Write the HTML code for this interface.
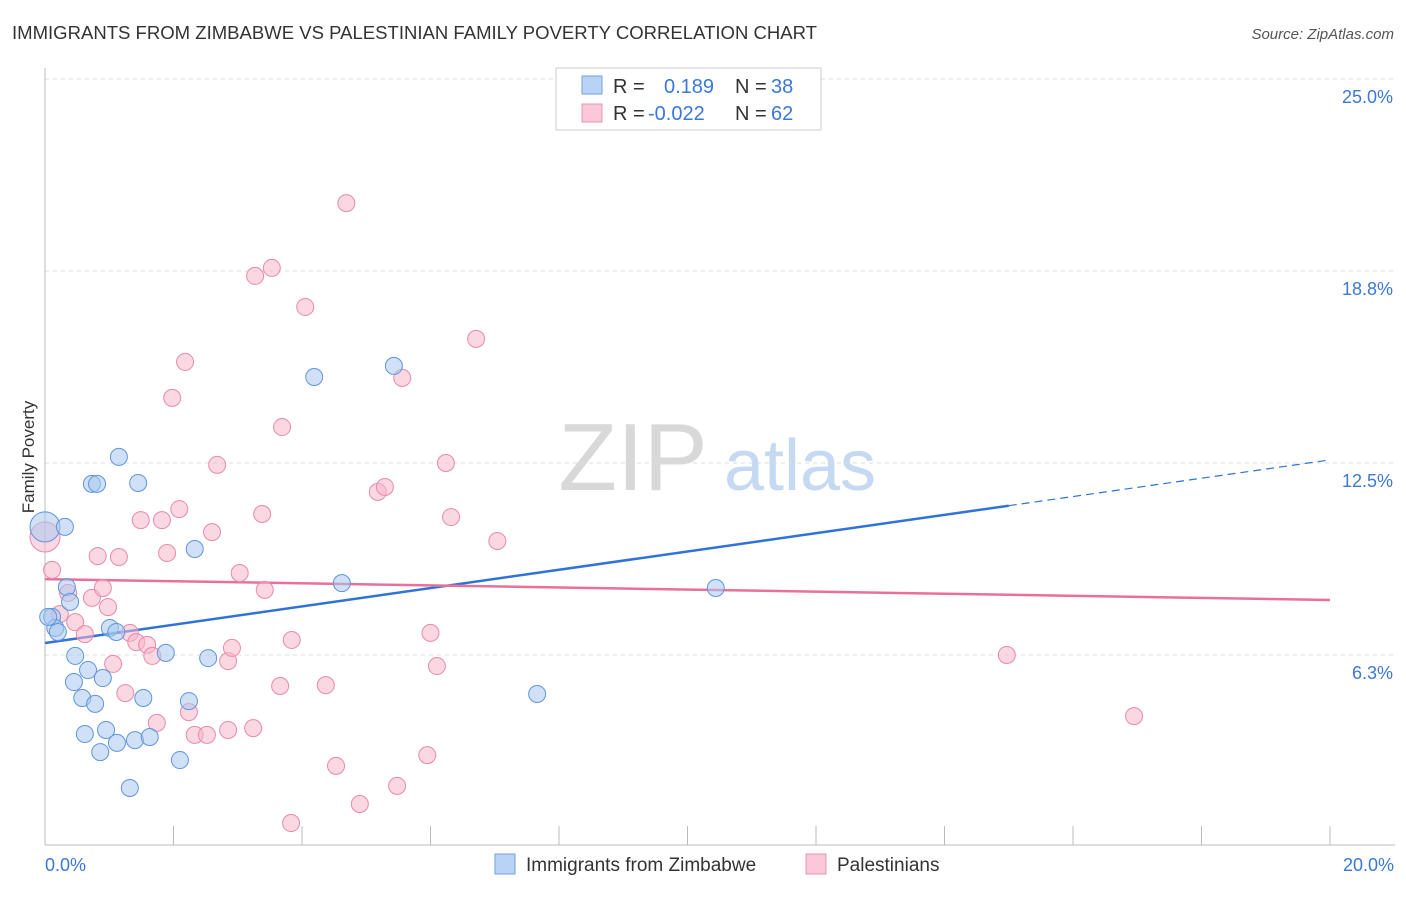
<!DOCTYPE html>
<html><head><meta charset="utf-8"><style>
body{margin:0;background:#fff;font-family:"Liberation Sans",sans-serif;}
svg text{font-family:"Liberation Sans",sans-serif;}
</style></head><body>
<svg id="chart" width="1406" height="892" viewBox="0 0 1406 892">
<text x="12" y="39" font-size="18" fill="#333" textLength="805" lengthAdjust="spacingAndGlyphs">IMMIGRANTS FROM ZIMBABWE VS PALESTINIAN FAMILY POVERTY CORRELATION CHART</text>
<text x="1394" y="39" font-size="15" fill="#555" font-style="italic" text-anchor="end">Source: ZipAtlas.com</text>
<text transform="translate(34,457) rotate(-90)" font-size="17" fill="#333" text-anchor="middle">Family Poverty</text>
<g>
<text x="633" y="490" font-size="96" fill="#d8d8d8" font-family="Liberation Serif" text-anchor="middle">ZIP</text>
<text x="800" y="490" font-size="72" fill="#c5d9f2" text-anchor="middle">atlas</text>
</g>
<g id="grid"></g><g id="axes"></g><g id="trends"></g><g id="pts"></g>
<g>
<rect x="556" y="68" width="265" height="62" fill="#fff" stroke="#ccc"/>
<rect x="582" y="76" width="20" height="18" fill="#b9d3f5" stroke="#6fa0e0"/>
<text x="613" y="93" font-size="20" fill="#333">R = </text><text x="664" y="93" font-size="20" fill="#3a78d8">0.189</text>
<text x="735" y="93" font-size="20" fill="#333">N = </text><text x="771" y="93" font-size="20" fill="#3a78d8">38</text>
<rect x="582" y="104" width="20" height="18" fill="#fbc8d8" stroke="#e890b0"/>
<text x="613" y="120" font-size="20" fill="#333">R = </text><text x="648" y="120" font-size="20" fill="#3a78d8">-0.022</text>
<text x="735" y="120" font-size="20" fill="#333">N = </text><text x="771" y="120" font-size="20" fill="#3a78d8">62</text>
</g>
<g>
<rect x="495" y="854" width="20" height="20" fill="#b9d3f5" stroke="#6fa0e0"/>
<text x="526" y="871" font-size="19" fill="#333">Immigrants from Zimbabwe</text>
<rect x="806" y="854" width="20" height="20" fill="#fbc8d8" stroke="#e890b0"/>
<text x="837" y="871" font-size="19" fill="#333">Palestinians</text>
</g>
</svg>
<script>
const yTicks=[6.25,12.5,18.75,25];
const yTickLabels=["6.3%","12.5%","18.8%","25.0%"];
const xTickLabels=["0.0%","20.0%"];
const zimX=[0,.11,.16,.20,.31,.34,.39,.47,.45,.58,.67,.78,.90,.62,.86,.95,1.01,1.11,1.12,1.32,1.40,1.53,1.63,1.15,.73,.81,1.45,1.88,2.10,2.24,2.33,2.54,4.19,4.62,5.43,7.66,10.44,.05];
const zimY=[10.42,7.49,7.13,7.00,10.42,8.46,7.98,6.22,5.37,4.85,5.76,4.66,5.50,3.68,3.09,3.81,7.13,7.00,3.39,1.92,3.48,4.85,3.58,12.70,11.82,11.82,11.85,6.32,2.83,4.75,9.70,6.15,15.30,8.59,15.66,4.98,8.43,7.49];
const palX=[0,.11,.23,.36,.47,.62,.73,.82,.90,.98,1.06,1.15,1.25,1.32,1.42,1.49,1.59,1.67,1.74,1.82,1.90,1.98,2.09,2.18,2.24,2.33,2.52,2.60,2.68,2.85,2.91,2.85,3.03,3.24,3.27,3.38,3.42,3.53,3.66,3.69,3.84,3.83,4.05,4.37,4.53,4.69,4.90,5.18,5.29,5.48,5.56,5.95,6.00,6.10,6.24,6.32,6.71,7.04,14.97,16.95];
const palY=[10.09,9.02,7.58,8.27,7.32,6.93,8.11,9.47,8.43,7.81,5.96,9.44,5.01,6.97,6.67,10.64,6.58,6.22,4.04,10.64,9.57,14.62,11.00,15.79,4.39,3.65,3.65,10.25,12.44,6.05,6.48,3.81,8.92,3.87,18.59,10.84,8.37,18.85,5.24,13.67,6.74,0.78,17.58,5.27,2.64,20.96,1.40,11.56,11.72,1.99,15.27,2.99,6.97,5.89,12.50,10.74,16.54,9.96,6.25,4.26];
const zimTrend=[6.64,12.60], palTrend=[8.72,8.04], zimSolidEnd=15.0;
const NS="http://www.w3.org/2000/svg";
const X=v=>45+v/20*1285, Y=v=>847-v*30.72;
function mk(p,t,a){const e=document.createElementNS(NS,t);for(const k in a)e.setAttribute(k,a[k]);document.getElementById(p).appendChild(e);return e;}
yTicks.forEach((t,i)=>{
 const l=mk('grid','line',{x1:45,x2:1395,y1:Y(t),y2:Y(t),stroke:'#ddd','stroke-dasharray':'4,4'});
 
 
 const tx=mk('grid','text',{x:1393,y:Y(t)+24,'font-size':18,fill:'#3a78d8','text-anchor':'end'});
 tx.textContent=yTickLabels[i];
 
 
});
const ax=mk('axes','line',{x1:45,x2:45,y1:68,y2:845,stroke:'#bbb'});


const bx=mk('axes','line',{x1:45,x2:1395,y1:845,y2:845,stroke:'#bbb'});


for(let i=0;i<=10;i++){const t=mk('axes','line',{x1:X(i*2),x2:X(i*2),y1:826,y2:845,stroke:'#bbb'});
 
 }
[[0,'start',45],[20,'end',1394]].forEach((d,i)=>{const t=mk('axes','text',{x:d[2],y:871,'font-size':18,fill:'#3a78d8','text-anchor':d[1]});t.textContent=xTickLabels[i];
 
 });
function drawPts(xs,ys,fill,stroke,name){xs.forEach((x,i)=>{const r=(x===0)?15:8.5;
 const c=mk('pts','circle',{cx:X(x),cy:Y(ys[i]),r:r,fill:fill,'fill-opacity':0.55,stroke:stroke,'stroke-width':1});
 
 });}
drawPts(palX,palY,'#f7b6ca','#e88aab','point-palestinians');
drawPts(zimX,zimY,'#a9c8f0','#5f95dc','point-zimbabwe');
const zl=v=>zimTrend[0]+(zimTrend[1]-zimTrend[0])*v/20;
const t1=mk('trends','line',{x1:X(0),y1:Y(zl(0)),x2:X(zimSolidEnd),y2:Y(zl(zimSolidEnd)),stroke:'#2f72d8','stroke-width':2.5});


const t2=mk('trends','line',{x1:X(zimSolidEnd),y1:Y(zl(zimSolidEnd)),x2:X(20),y2:Y(zl(20)),stroke:'#2f72d8','stroke-width':1.2,'stroke-dasharray':'8,5'});


const t3=mk('trends','line',{x1:X(0),y1:Y(palTrend[0]),x2:X(20),y2:Y(palTrend[1]),stroke:'#e8709a','stroke-width':2.5});


</script>
</body></html>
